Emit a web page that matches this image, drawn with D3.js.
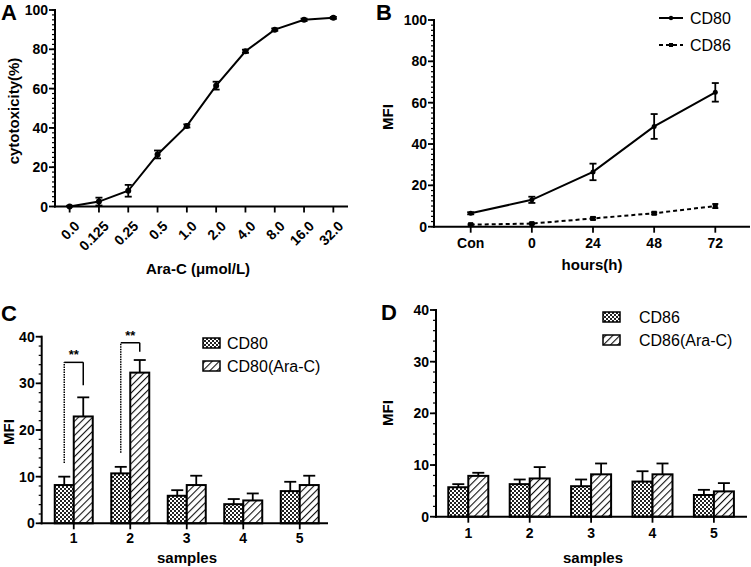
<!DOCTYPE html>
<html><head><meta charset="utf-8">
<script src="https://cdn.jsdelivr.net/npm/d3@7"></script>
<style>body{margin:0;background:#fff} text{font-family:"Liberation Sans",Arial,sans-serif}</style>
</head><body><svg id="c" width="751" height="567"></svg>
<script>
// ---- data ----
const doses = ["0.0","0.125","0.25","0.5","1.0","2.0","4.0","8.0","16.0","32.0"];
const cytotox = [0,2.5,8,26.5,41,61.5,79,90,95,96];
const cytotoxErr = [0.4,2,3,2,0.8,2,0.8,0.6,0.6,0.5];
const hours = ["Con","0","24","48","72"];
const cd80Time = [6.5,13,26.5,48.5,65];
const cd80TimeErr = [0.5,1.5,4,6,4.5];
const cd86Time = [1,1.5,4,6.5,10];
const cd86TimeErr = [0.3,0.3,0.6,0.5,1];
const samples = ["1","2","3","4","5"];
const cd80 = [8.2,10.7,5.9,4.1,6.9];
const cd80Err = [1.8,1.4,1.2,1.1,2];
const cd80AraC = [22.9,32.3,8.2,4.9,8.2];
const cd80AraCErr = [4.1,2.7,2,1.5,2];
const cd86 = [5.7,6.3,5.9,6.8,4.2];
const cd86Err = [0.6,0.9,1.3,2,1];
const cd86AraC = [7.9,7.4,8.2,8.2,4.9];
const cd86AraCErr = [0.6,2.2,2.1,2.1,1.6];
const sigSamples = ["1","2"];
const sigTop = [34.5,38.7];
const sigLeftEnd = [12.9,15.1];
const sigRightEnd = [29.6,36.8];
const sigLabels = ["**","**"];
const yTicksA = [0,20,40,60,80,100];
const yTicksC = [0,10,20,30,40];

const svg = d3.select("#c");

// patterns
const defs = svg.append("defs");
const chk = defs.append("pattern").attr("id","chk").attr("patternUnits","userSpaceOnUse")
  .attr("width",4).attr("height",4);
chk.append("rect").attr("width",4).attr("height",4).attr("fill","#fff");
chk.append("rect").attr("width",2).attr("height",2).attr("fill","#222");
chk.append("rect").attr("x",2).attr("y",2).attr("width",2).attr("height",2).attr("fill","#222");
const hat = defs.append("pattern").attr("id","hat").attr("patternUnits","userSpaceOnUse")
  .attr("width",5).attr("height",5).attr("patternTransform","rotate(45)");
hat.append("rect").attr("width",5).attr("height",5).attr("fill","#fff");
hat.append("line").attr("x1",0).attr("y1",0).attr("x2",0).attr("y2",5).attr("stroke","#111").attr("stroke-width",2.2);

function yAxis(g, y, x0, ticks, minorStep){
  const dom = y.domain();
  const minor = d3.range(dom[0], dom[1]+0.001, minorStep);
  g.selectAll(".mn").data(minor).join("line").attr("x1",x0-3).attr("x2",x0)
    .attr("y1",d=>y(d)).attr("y2",d=>y(d)).attr("stroke","#000").attr("stroke-width",1.2);
  g.selectAll(".mj").data(ticks).join("line").attr("x1",x0-6).attr("x2",x0)
    .attr("y1",d=>y(d)).attr("y2",d=>y(d)).attr("stroke","#000").attr("stroke-width",1.8);
  g.append("line").attr("x1",x0).attr("x2",x0).attr("y1",y(dom[0])+1).attr("y2",y(dom[1])-1)
    .attr("stroke","#000").attr("stroke-width",2);
  g.selectAll(".tl").data(ticks).join("text").attr("x",x0-7).attr("y",d=>y(d)).attr("dy","0.36em")
    .attr("text-anchor","end").attr("font-size",14).attr("font-weight","bold").text(d=>d);
}
function xAxisLine(g, yb, x0, x1, tickXs){
  g.append("line").attr("x1",x0-1).attr("x2",x1).attr("y1",yb).attr("y2",yb).attr("stroke","#000").attr("stroke-width",2);
  g.selectAll(".xt").data(tickXs).join("line").attr("x1",d=>d).attr("x2",d=>d)
    .attr("y1",yb).attr("y2",yb+6).attr("stroke","#000").attr("stroke-width",1.8);
}
function panelLabel(t,x,y){
  svg.append("text").attr("x",x).attr("y",y).attr("font-size",22).attr("font-weight","bold").text(t);
}
function errBars(g, pts, capW){
  pts.forEach(p=>{
    g.append("line").attr("x1",p.x).attr("x2",p.x).attr("y1",p.lo).attr("y2",p.hi).attr("stroke","#000").attr("stroke-width",1.8);
    [p.lo,p.hi].forEach(yy=>{
      g.append("line").attr("x1",p.x-capW/2).attr("x2",p.x+capW/2).attr("y1",yy).attr("y2",yy).attr("stroke","#000").attr("stroke-width",1.8);
    });
  });
}

// ---------- Panel A ----------
{
  const g = svg.append("g");
  const x = d3.scalePoint().domain(doses).range([55,348]).padding(0.5);
  const y = d3.scaleLinear().domain([0,100]).range([206.5,10]);
  yAxis(g,y,55,yTicksA,2.5);
  xAxisLine(g,206.5,55,348,doses.map(d=>x(d)));
  g.selectAll(".xl").data(doses).join("text")
    .attr("transform",d=>`translate(${x(d)+4},${220}) rotate(-45)`)
    .attr("text-anchor","end").attr("dy","0.7em").attr("font-size",14).attr("font-weight","bold").text(d=>d);
  errBars(g, doses.map((d,i)=>({x:x(d),lo:y(Math.max(0,cytotox[i]-cytotoxErr[i])),hi:y(cytotox[i]+cytotoxErr[i])})),7);
  g.append("path").datum(doses).attr("fill","none").attr("stroke","#000").attr("stroke-width",2)
    .attr("d",d3.line().x(d=>x(d)).y((d,i)=>y(cytotox[i])));
  g.selectAll(".pt").data(doses).join("circle").attr("cx",d=>x(d)).attr("cy",(d,i)=>y(cytotox[i])).attr("r",3).attr("fill","#000");
  g.append("text").attr("x",198).attr("y",274).attr("text-anchor","middle").attr("font-size",15).attr("font-weight","bold").text("Ara-C (μmol/L)");
  g.append("text").attr("transform","translate(19,111) rotate(-90)").attr("text-anchor","middle").attr("font-size",15).attr("font-weight","bold").text("cytotoxicity(%)");
  panelLabel("A",1,20);
}

// ---------- Panel B ----------
{
  const g = svg.append("g");
  const x = d3.scalePoint().domain(hours).range([434,752]).padding(0.6);
  const y = d3.scaleLinear().domain([0,100]).range([226.7,20]);
  yAxis(g,y,434,yTicksA,2.5);
  xAxisLine(g,226.7,434,750,hours.map(d=>x(d)));
  g.selectAll(".xl").data(hours).join("text").attr("x",d=>x(d)).attr("y",248)
    .attr("text-anchor","middle").attr("font-size",14).attr("font-weight","bold").text(d=>d);
  errBars(g, hours.map((d,i)=>({x:x(d),lo:y(cd80Time[i]-cd80TimeErr[i]),hi:y(cd80Time[i]+cd80TimeErr[i])})),7);
  errBars(g, hours.map((d,i)=>({x:x(d),lo:y(Math.max(0,cd86Time[i]-cd86TimeErr[i])),hi:y(cd86Time[i]+cd86TimeErr[i])})),6);
  g.append("path").datum(hours).attr("fill","none").attr("stroke","#000").attr("stroke-width",2)
    .attr("d",d3.line().x(d=>x(d)).y((d,i)=>y(cd80Time[i])));
  g.append("path").datum(hours).attr("fill","none").attr("stroke","#000").attr("stroke-width",2).attr("stroke-dasharray","4,3")
    .attr("d",d3.line().x(d=>x(d)).y((d,i)=>y(cd86Time[i])));
  g.selectAll(".p1").data(hours).join("circle").attr("cx",d=>x(d)).attr("cy",(d,i)=>y(cd80Time[i])).attr("r",2.5).attr("fill","#000");
  g.selectAll(".p2").data(hours).join("rect").attr("x",d=>x(d)-2.5).attr("y",(d,i)=>y(cd86Time[i])-2.5).attr("width",5).attr("height",5).attr("fill","#000");
  // legend
  g.append("line").attr("x1",659).attr("x2",683).attr("y1",18).attr("y2",18).attr("stroke","#000").attr("stroke-width",2);
  g.append("circle").attr("cx",671).attr("cy",18).attr("r",2.2).attr("fill","#000");
  g.append("text").attr("x",690).attr("y",24).attr("font-size",16).text("CD80");
  g.append("line").attr("x1",659).attr("x2",683).attr("y1",45).attr("y2",45).attr("stroke","#000").attr("stroke-width",2).attr("stroke-dasharray","4,3");
  g.append("rect").attr("x",669).attr("y",43).attr("width",4).attr("height",4).attr("fill","#000");
  g.append("text").attr("x",690).attr("y",51).attr("font-size",16).text("CD86");
  g.append("text").attr("x",592).attr("y",270).attr("text-anchor","middle").attr("font-size",15).attr("font-weight","bold").text("hours(h)");
  g.append("text").attr("transform","translate(393,117) rotate(-90)").attr("text-anchor","middle").attr("font-size",15).attr("font-weight","bold").text("MFI");
  panelLabel("B",376,20);
}

// ---------- bar panels ----------
function barPanel(o){
  const g = svg.append("g");
  const x = d3.scaleBand().domain(samples).range([o.bx0,o.bx1]);
  const sub = d3.scaleBand().domain([0,1]).range([-o.bw, o.bw]);
  const y = d3.scaleLinear().domain([0,40]).range([o.yb,o.yt]);
  const cx = s=>x(s)+x.bandwidth()/2;
  const series = [{v:o.v1,e:o.e1,f:"url(#chk)"},{v:o.v2,e:o.e2,f:"url(#hat)"}];
  series.forEach((s,k)=>{
    samples.forEach((d,i)=>{
      const xc = cx(d)+sub(k)+sub.bandwidth()/2;
      g.append("line").attr("x1",xc).attr("x2",xc).attr("y1",y(s.v[i])).attr("y2",y(s.v[i]+s.e[i])).attr("stroke","#000").attr("stroke-width",1.8);
      g.append("line").attr("x1",xc-6).attr("x2",xc+6).attr("y1",y(s.v[i]+s.e[i])).attr("y2",y(s.v[i]+s.e[i])).attr("stroke","#000").attr("stroke-width",1.8);
    });
    g.selectAll(".b"+k).data(samples).join("rect")
      .attr("x",d=>cx(d)+sub(k)).attr("width",sub.bandwidth())
      .attr("y",(d,i)=>y(s.v[i])).attr("height",(d,i)=>y(0)-y(s.v[i]))
      .attr("fill",s.f).attr("stroke","#000").attr("stroke-width",2);
  });
  yAxis(g,y,o.x0,yTicksC,2);
  xAxisLine(g,o.yb,o.x0,o.x1,samples.map(cx));
  g.selectAll(".xl").data(samples).join("text").attr("x",cx).attr("y",o.xly)
    .attr("text-anchor","middle").attr("font-size",14).attr("font-weight","bold").text(d=>d);
  g.append("text").attr("x",o.xtx).attr("y",o.xty).attr("text-anchor","middle").attr("font-size",15).attr("font-weight","bold").text("samples");
  g.append("text").attr("transform",`translate(${o.ytx},${o.yty}) rotate(-90)`).attr("text-anchor","middle").attr("font-size",15).attr("font-weight","bold").text("MFI");
  o.leg.forEach((t,k)=>{
    g.append("rect").attr("x",o.lx).attr("y",o.ly+k*23).attr("width",17).attr("height",10)
      .attr("fill",series[k].f).attr("stroke","#000").attr("stroke-width",1.5);
    g.append("text").attr("x",o.ltx).attr("y",o.ly+k*23+11).attr("font-size",16).text(t);
  });
  return {g,x,y,cx,sub};
}

{
  const P = barPanel({bx0:45.5,bx1:328,bw:19,x0:41.7,x1:328,yt:336.7,yb:523.3,v1:cd80,e1:cd80Err,v2:cd80AraC,e2:cd80AraCErr,
    xly:543,xtx:187,xty:563,ytx:14,yty:432,leg:["CD80","CD80(Ara-C)"],lx:203,ly:338,ltx:227});
  const {g,y,cx,sub} = P;
  sigSamples.forEach((s,i)=>{
    const xl = cx(s)+sub(0)+sub.bandwidth()/2, xr = cx(s)+sub(1)+sub.bandwidth()/2;
    g.append("line").attr("x1",xl).attr("x2",xl).attr("y1",y(sigLeftEnd[i])).attr("y2",y(sigTop[i])).attr("stroke","#000").attr("stroke-width",1.5).attr("stroke-dasharray","1.5,1");
    g.append("line").attr("x1",xl).attr("x2",xr).attr("y1",y(sigTop[i])).attr("y2",y(sigTop[i])).attr("stroke","#000").attr("stroke-width",1.5);
    g.append("line").attr("x1",xr).attr("x2",xr).attr("y1",y(sigTop[i])).attr("y2",y(sigRightEnd[i])).attr("stroke","#000").attr("stroke-width",1.5);
    g.append("text").attr("x",(xl+xr)/2).attr("y",y(sigTop[i])-3).attr("text-anchor","middle").attr("font-size",13).attr("font-weight","bold").text(sigLabels[i]);
  });
  panelLabel("C",1,321);
}
{
  barPanel({bx0:437.6,bx1:744.6,bw:20,x0:436,x1:747,yt:310,yb:516.7,v1:cd86,e1:cd86Err,v2:cd86AraC,e2:cd86AraCErr,
    xly:538,xtx:593,xty:563,ytx:393,yty:413,leg:["CD86","CD86(Ara-C)"],lx:603,ly:312,ltx:639});
  panelLabel("D",381,320);
}
</script></body></html>
